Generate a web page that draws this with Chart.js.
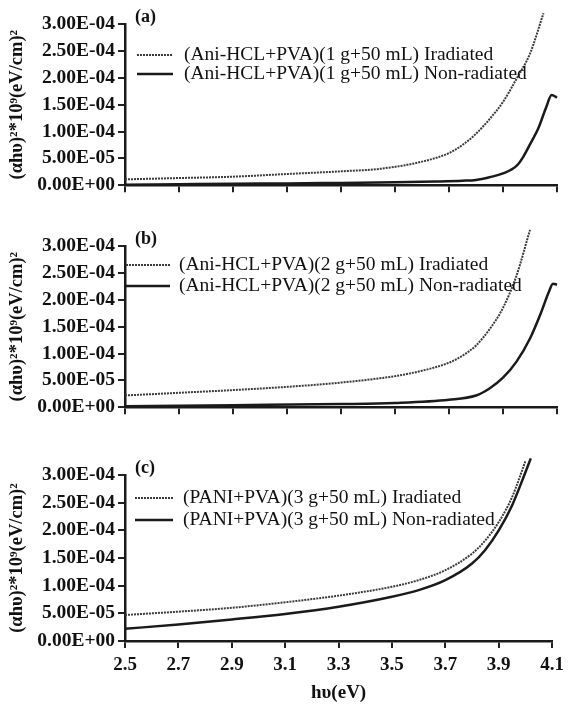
<!DOCTYPE html>
<html>
<head>
<meta charset="utf-8">
<script src="https://cdn.jsdelivr.net/npm/chart.js@4.4.1/dist/chart.umd.min.js"></script>
<style>
    body { margin: 0; background: #fff; }
    .panel { position: absolute; left: 0; width: 570px; }
</style>
</head>
<body>
<div class="panel" style="top:0;height:200px"><canvas id="chartA"></canvas></div>
<div class="panel" style="top:222px;height:200px"><canvas id="chartB"></canvas></div>
<div class="panel" style="top:451px;height:262px"><canvas id="chartC"></canvas></div>
<script>
// photon energy (eV) and (alpha h nu)^2 values
const aIrrX = [2.5, 2.7, 2.9, 3.1, 3.3, 3.45, 3.6, 3.7, 3.75, 3.8, 3.85, 3.9, 3.95, 4.0, 4.05];
const aIrrY = [1.1e-5, 1.35e-5, 1.6e-5, 2.1e-5, 2.6e-5, 3.1e-5, 4.4e-5, 6.0e-5, 7.5e-5, 9.6e-5, 1.23e-4, 1.55e-4, 1.98e-4, 2.45e-4, 3.2e-4];
const aNonX = [2.5, 2.7, 2.9, 3.1, 3.3, 3.5, 3.65, 3.75, 3.8, 3.85, 3.9, 3.95, 3.975, 4.0, 4.03, 4.06, 4.08, 4.1];
const aNonY = [0.1e-5, 0.2e-5, 0.3e-5, 0.35e-5, 0.45e-5, 0.55e-5, 0.7e-5, 0.85e-5, 1.0e-5, 1.5e-5, 2.2e-5, 3.6e-5, 5.3e-5, 7.6e-5, 1.05e-4, 1.45e-4, 1.68e-4, 1.63e-4];

const bIrrX = [2.5, 2.7, 2.9, 3.1, 3.3, 3.5, 3.6, 3.7, 3.75, 3.8, 3.85, 3.9, 3.95, 4.0];
const bIrrY = [2.2e-5, 2.7e-5, 3.2e-5, 3.8e-5, 4.6e-5, 5.8e-5, 6.8e-5, 8.3e-5, 9.6e-5, 1.15e-4, 1.45e-4, 1.85e-4, 2.45e-4, 3.3e-4];
const bNonX = [2.5, 2.9, 3.3, 3.5, 3.7, 3.8, 3.85, 3.9, 3.95, 4.0, 4.04, 4.07, 4.085, 4.1];
const bNonY = [0.2e-5, 0.4e-5, 0.6e-5, 0.8e-5, 1.4e-5, 2.2e-5, 3.5e-5, 5.5e-5, 8.5e-5, 1.28e-4, 1.75e-4, 2.15e-4, 2.3e-4, 2.28e-4];

const cIrrX = [2.5, 2.7, 2.9, 3.1, 3.3, 3.5, 3.6, 3.7, 3.8, 3.85, 3.9, 3.95, 4.0];
const cIrrY = [4.7e-5, 5.3e-5, 6.0e-5, 7.0e-5, 8.2e-5, 9.8e-5, 1.1e-4, 1.28e-4, 1.58e-4, 1.82e-4, 2.15e-4, 2.6e-4, 3.25e-4];
const cNonX = [2.5, 2.7, 2.9, 3.1, 3.3, 3.5, 3.6, 3.7, 3.8, 3.85, 3.9, 3.95, 4.0, 4.02];
const cNonY = [2.2e-5, 3.0e-5, 3.9e-5, 4.9e-5, 6.2e-5, 8.0e-5, 9.2e-5, 1.1e-4, 1.4e-4, 1.65e-4, 2.0e-4, 2.45e-4, 3.05e-4, 3.3e-4];

const xTicks = ['2.5', '2.7', '2.9', '3.1', '3.3', '3.5', '3.7', '3.9', '4.1'];
const yTitle = '(αhυ)²*10⁹(eV/cm)²';

const SERIF = '"Liberation Serif", "Times New Roman", serif';

function toPoints(xs, ys) {
    return xs.map((x, i) => ({ x: x, y: ys[i] }));
}

function sci(v) {
    const parts = Number(v).toExponential(2).toUpperCase().split('E');
    let exp = parts[1];
    const sign = exp[0] === '-' ? '-' : '+';
    exp = exp.replace('+', '').replace('-', '');
    if (exp.length < 2) exp = '0' + exp;
    return parts[0] + 'E' + sign + exp;
}

// legend and panel tag drawn inside the plot
const insideLegend = {
    id: 'insideLegend',
    afterDatasetsDraw(chart, args, opts) {
        const ctx = chart.ctx;
        ctx.save();
        chart.data.datasets.forEach((ds, i) => {
            const y = opts.y + i * opts.step;
            ctx.beginPath();
            ctx.setLineDash(ds.borderDash || []);
            ctx.lineWidth = ds.borderWidth;
            ctx.strokeStyle = ds.borderColor;
            ctx.moveTo(opts.x, y);
            ctx.lineTo(opts.x + opts.len, y);
            ctx.stroke();
            ctx.setLineDash([]);
            ctx.fillStyle = '#111';
            ctx.font = opts.size + 'px ' + SERIF;
            ctx.textBaseline = 'middle';
            ctx.fillText(ds.label, opts.x + opts.len + opts.gap, y);
        });
        ctx.font = 'bold 18px ' + SERIF;
        ctx.fillStyle = '#111';
        ctx.textBaseline = 'middle';
        ctx.fillText(opts.tag, opts.tagX, chart.chartArea.top - 7);
        ctx.restore();
    }
};

function makePanel(id, tag, names, irr, non, legend, bottomAxis) {
    new Chart(document.getElementById(id), {
        type: 'line',
        data: {
            datasets: [{
                label: names[0],
                data: irr,
                borderColor: '#3a3a3a',
                borderWidth: 2,
                borderDash: [2, 1],
                pointRadius: 0,
                cubicInterpolationMode: 'monotone',
                clip: false
            }, {
                label: names[1],
                data: non,
                borderColor: '#1a1a1a',
                borderWidth: 2.5,
                pointRadius: 0,
                cubicInterpolationMode: 'monotone',
                clip: false
            }]
        },
        options: {
            responsive: true,
            maintainAspectRatio: false,
            animation: false,
            events: [],
            layout: { padding: { top: 24, right: 13, left: 0, bottom: 0 } },
            plugins: {
                legend: { display: false },
                tooltip: { enabled: false },
                insideLegend: Object.assign({ tag: tag }, legend)
            },
            scales: {
                x: {
                    type: 'linear',
                    min: 2.5,
                    max: 4.1,
                    ticks: {
                        display: bottomAxis,
                        stepSize: 0.2,
                        color: '#111',
                        padding: 6,
                        font: { family: SERIF, size: 19, weight: 'bold' },
                        callback: (v) => xTicks.includes(Number(v).toFixed(1)) ? Number(v).toFixed(1) : ''
                    },
                    grid: { drawOnChartArea: false, drawTicks: true, tickLength: 7, color: '#222', lineWidth: 2 },
                    border: { color: '#1a1a1a', width: 2.5 },
                    title: {
                        display: bottomAxis,
                        text: 'hυ(eV)',
                        color: '#111',
                        padding: { top: 0, bottom: 9 },
                        font: { family: SERIF, size: 19, weight: 'bold' }
                    },
                    afterFit: (scale) => { scale.height = bottomAxis ? 72 : 10; }
                },
                y: {
                    min: 0,
                    max: 3e-4,
                    ticks: {
                        stepSize: 5e-5,
                        color: '#111',
                        padding: 3,
                        font: { family: SERIF, size: 19.5, weight: 'bold' },
                        callback: (v) => sci(v)
                    },
                    grid: { drawOnChartArea: false, drawTicks: true, tickLength: 7, color: '#222', lineWidth: 2 },
                    border: { color: '#1a1a1a', width: 2.5 },
                    title: {
                        display: true,
                        text: yTitle,
                        color: '#111',
                        padding: { top: 6, bottom: 0 },
                        font: { family: SERIF, size: 18.5, weight: 'bold' }
                    },
                    afterFit: (scale) => { scale.width = 125; }
                }
            }
        },
        plugins: [insideLegend]
    });
}

makePanel('chartA', '(a)',
    ['(Ani-HCL+PVA)(1 g+50 mL) Iradiated', '(Ani-HCL+PVA)(1 g+50 mL) Non-radiated'],
    toPoints(aIrrX, aIrrY), toPoints(aNonX, aNonY),
    { x: 137, y: 55, step: 19, len: 36, gap: 11, size: 19.5, tagX: 135 }, false);

makePanel('chartB', '(b)',
    ['(Ani-HCL+PVA)(2 g+50 mL) Iradiated', '(Ani-HCL+PVA)(2 g+50 mL) Non-radiated'],
    toPoints(bIrrX, bIrrY), toPoints(bNonX, bNonY),
    { x: 126, y: 43, step: 21, len: 44, gap: 9, size: 19.5, tagX: 135 }, false);

makePanel('chartC', '(c)',
    ['(PANI+PVA)(3 g+50 mL) Iradiated', '(PANI+PVA)(3 g+50 mL) Non-radiated'],
    toPoints(cIrrX, cIrrY), toPoints(cNonX, cNonY),
    { x: 135, y: 47, step: 22, len: 38, gap: 10, size: 19.5, tagX: 135 }, true);
</script>
</body>
</html>
